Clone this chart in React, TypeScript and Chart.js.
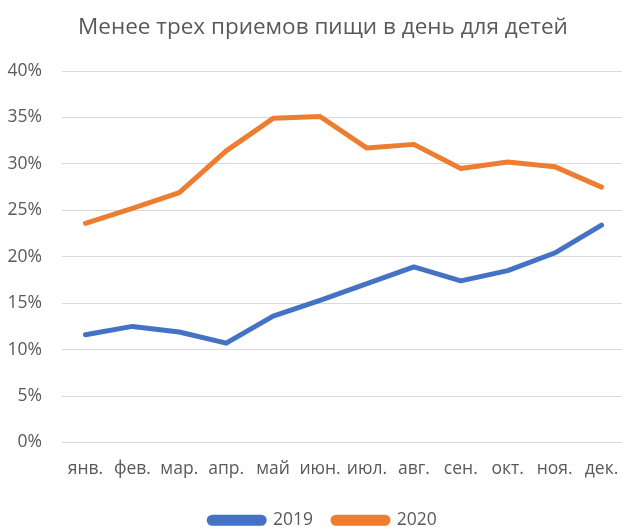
import React, { useEffect, useRef } from "react";
import { Chart, registerables } from "chart.js";

Chart.register(...registerables);

const titleText = "Менее трех приемов пищи в день для детей";
const months = ["янв.", "фев.", "мар.", "апр.", "май", "июн.", "июл.", "авг.", "сен.", "окт.", "ноя.", "дек."];
const series2019 = [11.6, 12.5, 11.9, 10.7, 13.6, 15.3, 17.1, 18.9, 17.4, 18.5, 20.4, 23.4];
const series2020 = [23.6, 25.2, 26.9, 31.4, 34.9, 35.1, 31.7, 32.1, 29.5, 30.2, 29.7, 27.5];
const label2019 = "2019";
const label2020 = "2020";
const yMin = 0;
const yMax = 40;
const yStep = 5;

const FONT = "'Open Sans', 'DejaVu Sans', sans-serif";
const TEXT = "#595959";

export default function App() {
  const ref = useRef<HTMLCanvasElement | null>(null);

  useEffect(() => {
    document.body.style.margin = "0";
    const canvas = ref.current;
    if (!canvas) return;
    const chart = new Chart(canvas, {
      type: "line",
      data: {
        labels: months,
        datasets: [
          {
            label: label2019,
            data: series2019,
            borderColor: "#4472C4",
            backgroundColor: "#4472C4",
            borderWidth: 5,
            pointRadius: 0,
            borderCapStyle: "round",
            borderJoinStyle: "round",
            tension: 0,
          },
          {
            label: label2020,
            data: series2020,
            borderColor: "#ED7D31",
            backgroundColor: "#ED7D31",
            borderWidth: 5,
            pointRadius: 0,
            borderCapStyle: "round",
            borderJoinStyle: "round",
            tension: 0,
          },
        ],
      },
      options: {
        responsive: false,
        animation: false,
        devicePixelRatio: 1,
        layout: { padding: 0 },
        plugins: {
          title: {
            display: true,
            text: titleText,
            color: TEXT,
            font: { family: FONT, size: 22.5, weight: "normal" },
            padding: { top: 14, bottom: 30 },
          },
          legend: {
            position: "bottom",
            labels: {
              color: TEXT,
              font: { family: FONT, size: 17.5 },
              boxWidth: 55,
              boxHeight: 6,
              useBorderRadius: true,
              borderRadius: 3,
              padding: 20,
            },
          },
          tooltip: { enabled: false },
        },
        scales: {
          x: {
            offset: true,
            grid: { display: false, drawTicks: false },
            border: { display: true, color: "#D9D9D9", width: 1 },
            ticks: {
              color: TEXT,
              font: { family: FONT, size: 17.5 },
              padding: 16,
              maxRotation: 0,
              autoSkip: false,
            },
            afterFit: (s: any) => {
              s.height = 49;
            },
          },
          y: {
            min: yMin,
            max: yMax,
            grid: { color: "#D9D9D9", lineWidth: 1, drawTicks: false },
            border: { display: false },
            ticks: {
              stepSize: yStep,
              color: TEXT,
              font: { family: FONT, size: 17.5 },
              padding: 20,
              callback: (v: any) => v + "%",
            },
            afterFit: (s: any) => {
              s.width = 62;
            },
          },
          yRightSpacer: {
            type: "linear",
            position: "right",
            display: true,
            grid: { display: false, drawTicks: false },
            border: { display: false },
            ticks: { display: false },
            afterFit: (s: any) => {
              s.width = 21;
            },
          },
        },
      },
    });
    return () => chart.destroy();
  }, []);

  return (
    <div style={{ width: 622, height: 527, overflow: "hidden", background: "#fff" }}>
      <canvas ref={ref} width={646} height={539} style={{ display: "block" }} />
    </div>
  );
}
